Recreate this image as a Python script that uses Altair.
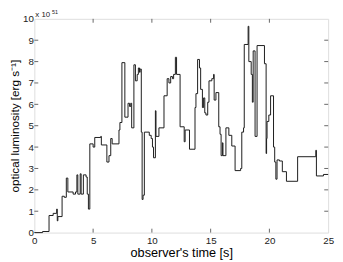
import altair as alt
import pandas as pd

# step light curve: start time of each step [s], luminosity [1e51 erg/s]
times = [0.0, 0.7, 1.25, 1.6, 1.9, 1.95, 2.0, 2.36, 2.55, 2.72, 2.85, 3.3, 3.5,
         3.62, 3.7, 3.9, 3.98, 4.17, 4.4, 4.5, 4.6, 4.72, 5.0, 5.14, 5.65, 5.7,
         6.17, 6.35, 6.5, 6.62, 7.2, 7.28, 7.45, 7.7, 7.97, 8.1, 8.2, 8.28, 8.47,
         8.6, 8.75, 8.85, 8.95, 9.0, 9.1, 9.17, 9.25, 9.36, 9.78, 9.94, 10.05,
         10.14, 10.3, 10.35, 10.6, 11.03, 11.3, 11.45, 11.6, 11.75, 11.85, 12.0,
         12.1, 12.4, 12.75, 12.83, 13.2, 13.67, 13.75, 13.89, 14.05, 14.15, 14.3,
         14.4, 14.5, 14.6, 14.75, 14.86, 15.1, 15.25, 15.3, 15.45, 15.69, 15.8,
         15.89, 16.0, 16.05, 16.3, 16.55, 16.8, 17.08, 17.55, 17.65, 17.8, 17.86,
         18.19, 18.25, 18.45, 18.55, 18.62, 18.78, 18.95, 19.58, 19.72, 19.76,
         19.8, 19.95, 20.1, 20.35, 20.45, 20.55, 20.65, 20.85, 21.1, 21.45, 22.4,
         23.95, 24.0, 24.6, 25.0]
lum = [0.0, 0.05, 0.8, 0.9, 1.1, 0.55, 0.75, 1.7, 1.65, 2.55, 1.9, 1.8, 1.9,
       2.7, 1.8, 2.75, 1.8, 2.7, 2.6, 1.8, 1.1, 4.15, 4.0, 4.45, 4.5, 4.1,
       3.3, 3.6, 4.4, 4.15, 4.8, 5.15, 7.95, 5.4, 6.05, 5.9, 6.05, 4.9, 7.85,
       7.1, 7.4, 7.7, 7.5, 7.65, 4.7, 1.55, 1.75, 4.7, 4.55, 4.4, 4.0,
       3.5, 5.7, 4.5, 4.9, 6.4, 7.2, 7.0, 7.3, 7.2, 7.4, 8.2,
       7.4, 4.95, 4.25, 4.8, 3.9, 5.85, 6.5, 8.1, 7.7, 6.7, 5.85,
       6.3, 5.6, 5.5, 6.1, 7.1, 7.2, 7.4, 6.2, 6.55, 4.95, 4.6,
       3.6, 4.2, 3.6, 4.9, 4.55, 4.05, 2.9, 3.0, 4.7, 4.9, 8.8,
       9.65, 8.0, 7.4, 6.1, 8.5, 4.5, 8.75, 7.9, 3.7, 4.4,
       5.2, 5.5, 6.4, 4.0, 3.3, 2.5, 3.4, 3.35, 2.85, 2.4, 3.55,
       3.85, 2.65, 2.72, 2.72]

x_ticks = [0, 5, 10, 15, 20, 25]
y_ticks = [0, 1, 2, 3, 4, 5, 6, 7, 8, 9, 10]

W, H = 301, 219
FONT = "Liberation Sans"

df = pd.DataFrame({"t": times, "L": lum})
xs = alt.Scale(domain=[0, 25], nice=False)
ys = alt.Scale(domain=[0, 10], nice=False)

x_axis = alt.Axis(title="observer's  time [s]", values=x_ticks, tickSize=0,
                  labelPadding=3, titlePadding=1, domain=False, grid=False,
                  labelFlush=False, labelOverlap=False,
                  labelFontSize=10, titleFontSize=13, titleFontWeight="normal",
                  labelFont=FONT, titleFont=FONT, labelColor="#222",
                  titleColor="#000")
y_axis = alt.Axis(title="optical luminosity [erg s⁻¹]", values=y_ticks, tickSize=0,
                  labelPadding=1, titlePadding=1, domain=False, grid=False,
                  labelFlush=False, labelOverlap=False,
                  labelFontSize=10, titleFontSize=12, titleFontWeight="normal",
                  labelFont=FONT, titleFont=FONT, labelColor="#222",
                  titleColor="#000")

line = alt.Chart(df).mark_line(
    interpolate="step-after", color="#1a1a1a", strokeWidth=1
).encode(
    x=alt.X("t:Q", scale=xs, axis=x_axis),
    y=alt.Y("L:Q", scale=ys, axis=y_axis),
)

xt = pd.DataFrame({"t": x_ticks[1:-1]})
yt = pd.DataFrame({"L": y_ticks[1:-1]})
tick_style = dict(color="#666", strokeWidth=1)

xb = alt.Chart(xt).mark_rule(**tick_style).encode(
    x=alt.X("t:Q", scale=xs, axis=x_axis), y=alt.value(H), y2=alt.value(H - 4))
xtop = alt.Chart(xt).mark_rule(**tick_style).encode(
    x=alt.X("t:Q", scale=xs, axis=x_axis), y=alt.value(0), y2=alt.value(4))
yl = alt.Chart(yt).mark_rule(**tick_style).encode(
    y=alt.Y("L:Q", scale=ys, axis=y_axis), x=alt.value(0), x2=alt.value(4))
yr = alt.Chart(yt).mark_rule(**tick_style).encode(
    y=alt.Y("L:Q", scale=ys, axis=y_axis), x=alt.value(W), x2=alt.value(W - 4))

expo = alt.Chart(pd.DataFrame({"s": ["x 10"]})).mark_text(
    align="left", baseline="alphabetic", fontSize=8, font=FONT, color="#222"
).encode(text="s:N", x=alt.value(1), y=alt.value(-2))
expo_sup = alt.Chart(pd.DataFrame({"s": ["51"]})).mark_text(
    align="left", baseline="alphabetic", fontSize=5.5, font=FONT, color="#222"
).encode(text="s:N", x=alt.value(18), y=alt.value(-5))

chart = alt.layer(line, xb, xtop, yl, yr, expo, expo_sup).properties(
    width=W, height=H,
    autosize=alt.AutoSizeParams(type="none"),
    padding={"left": 27, "top": 8, "right": 7, "bottom": 26},
).configure_view(stroke="#666", strokeWidth=1).configure(background="white")

chart.save("out.html", embed_options={"renderer": "svg", "actions": False})
